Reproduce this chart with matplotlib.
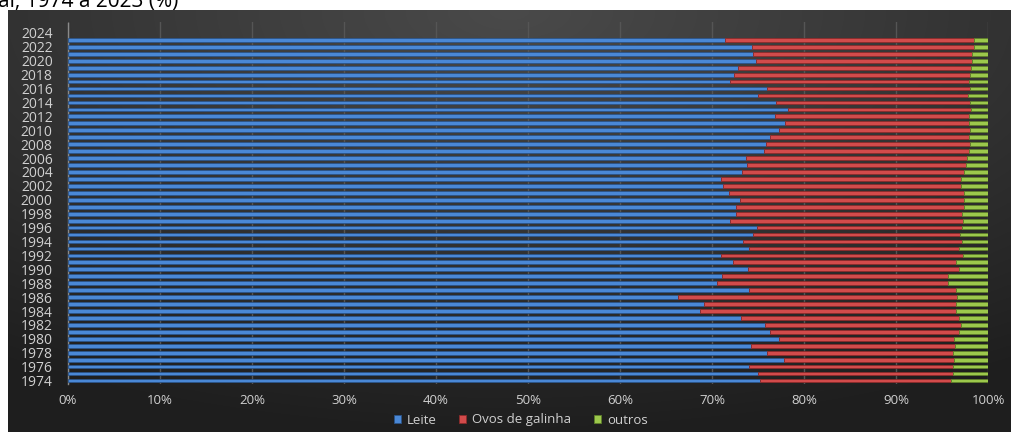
import numpy as np
import matplotlib
matplotlib.use("Agg")
import matplotlib.pyplot as plt
from matplotlib.ticker import FuncFormatter

# Participação (%) por produto, 1974-2023
anos = list(range(1974, 2024))
leite = [75.2, 75.0, 74.0, 77.8, 76.0, 74.2, 77.3, 76.3, 75.8, 73.2,
         68.7, 69.1, 66.3, 74.0, 70.5, 71.1, 73.9, 72.3, 71.0, 74.0,
         73.4, 74.5, 74.9, 72.0, 72.6, 72.6, 73.0, 71.8, 71.2, 71.0,
         73.3, 73.8, 73.7, 75.7, 75.9, 76.3, 77.3, 77.9, 76.8, 78.3,
         77.0, 75.0, 76.0, 72.0, 72.4, 72.8, 74.8, 74.5, 74.4, 71.4]
ovos = [20.8, 21.2, 22.2, 18.5, 20.2, 22.2, 19.0, 20.5, 21.3, 23.6,
        27.8, 27.4, 30.3, 22.5, 25.2, 24.5, 23.0, 24.2, 26.3, 22.8,
        23.8, 22.5, 22.3, 25.3, 24.6, 24.8, 24.4, 25.6, 25.9, 26.1,
        24.1, 23.8, 24.0, 22.2, 22.1, 21.6, 20.7, 20.0, 21.1, 19.9,
        21.0, 22.8, 22.0, 25.9, 25.6, 25.4, 23.5, 23.8, 24.1, 27.1]
outros = [4.0, 3.8, 3.8, 3.7, 3.8, 3.6, 3.7, 3.2, 2.9, 3.2,
          3.5, 3.5, 3.4, 3.5, 4.3, 4.4, 3.1, 3.5, 2.7, 3.2,
          2.8, 3.0, 2.8, 2.7, 2.8, 2.6, 2.6, 2.6, 2.9, 2.9,
          2.6, 2.4, 2.3, 2.1, 2.0, 2.1, 2.0, 2.1, 2.1, 1.8,
          2.0, 2.2, 2.0, 2.1, 2.0, 1.8, 1.7, 1.7, 1.5, 1.5]
series_nomes = ["Leite", "Ovos de galinha", "outros"]
rotulos_anos = list(range(1974, 2025, 2))

W, H = 1011, 432
fig = plt.figure(figsize=(W / 100, H / 100), dpi=100)
fig.patch.set_facecolor("white")

# dark gradient panel behind the chart
bg = fig.add_axes([8 / W, 0, 1 - 8 / W, 1 - 10 / H])
bg.set_axis_off()
gy, gx = np.mgrid[0:1:200j, 0:1:400j]
dist = np.sqrt(((gx - 0.5) * 1.1) ** 2 + (gy * 1.0) ** 2)
lum = 0.29 - 0.17 * np.clip(dist, 0, 1)
bg.imshow(np.dstack([lum, lum, lum]), aspect="auto", extent=[0, 1, 1, 0],
          interpolation="bicubic")
bg.set_xlim(0, 1)
bg.set_ylim(1, 0)

ax = fig.add_axes([68 / W, (H - 384) / H, 920 / W, 361.5 / H])
ax.set_facecolor("none")

tot = np.array(leite) + np.array(ovos) + np.array(outros)
v1 = np.array(leite) / tot
v2 = np.array(ovos) / tot
v3 = np.array(outros) / tot
y = np.array(anos)

cores = ["#4a88d6", "#d24b4b", "#9cc84c"]
bordas = ["#2b5489", "#8c2b2b", "#5f7f2a"]
bh = 0.54
left = np.zeros(len(y))
for vals, c, e, nome in zip([v1, v2, v3], cores, bordas, series_nomes):
    ax.barh(y, vals, left=left, height=bh, color=c, edgecolor=e,
            linewidth=0.6, label=nome, zorder=3)
    left = left + vals

ax.set_xlim(0, 1)
ax.set_ylim(1973.5, 2025.5)
ax.set_xticks(np.linspace(0, 1, 11))
ax.xaxis.set_major_formatter(FuncFormatter(lambda v, p: f"{v * 100:.0f}%"))
ax.set_yticks(rotulos_anos)
ax.set_yticklabels([str(a) for a in rotulos_anos])

ax.grid(axis="x", color="#555555", linewidth=1.0, zorder=0)
ax.grid(axis="y", visible=False)
for s in ["top", "right", "bottom"]:
    ax.spines[s].set_visible(False)
ax.spines["left"].set_color("#8a8a8a")
ax.spines["left"].set_linewidth(1.0)

ax.tick_params(axis="both", length=0, colors="#d0d0d0")
ax.tick_params(axis="y", pad=11, labelsize=10)
ax.tick_params(axis="x", pad=7, labelsize=9.5)
for t in ax.get_xticklabels() + ax.get_yticklabels():
    t.set_fontfamily("Open Sans")

leg = fig.legend(loc="center", bbox_to_anchor=(0.515, 1 - 420 / H), ncol=3,
                 frameon=False, prop={"family": "Open Sans", "size": 9.5},
                 handlelength=0.55, handleheight=0.55, handletextpad=0.45,
                 columnspacing=1.7)
for t in leg.get_texts():
    t.set_color("#d0d0d0")

fig.text(-0.002, 1 - 7 / H, "al, 1974 a 2023 (%)", fontsize=15,
         family="Open Sans", color="black", va="baseline", ha="left")

fig.savefig("out.png", dpi=100, facecolor=fig.get_facecolor())
